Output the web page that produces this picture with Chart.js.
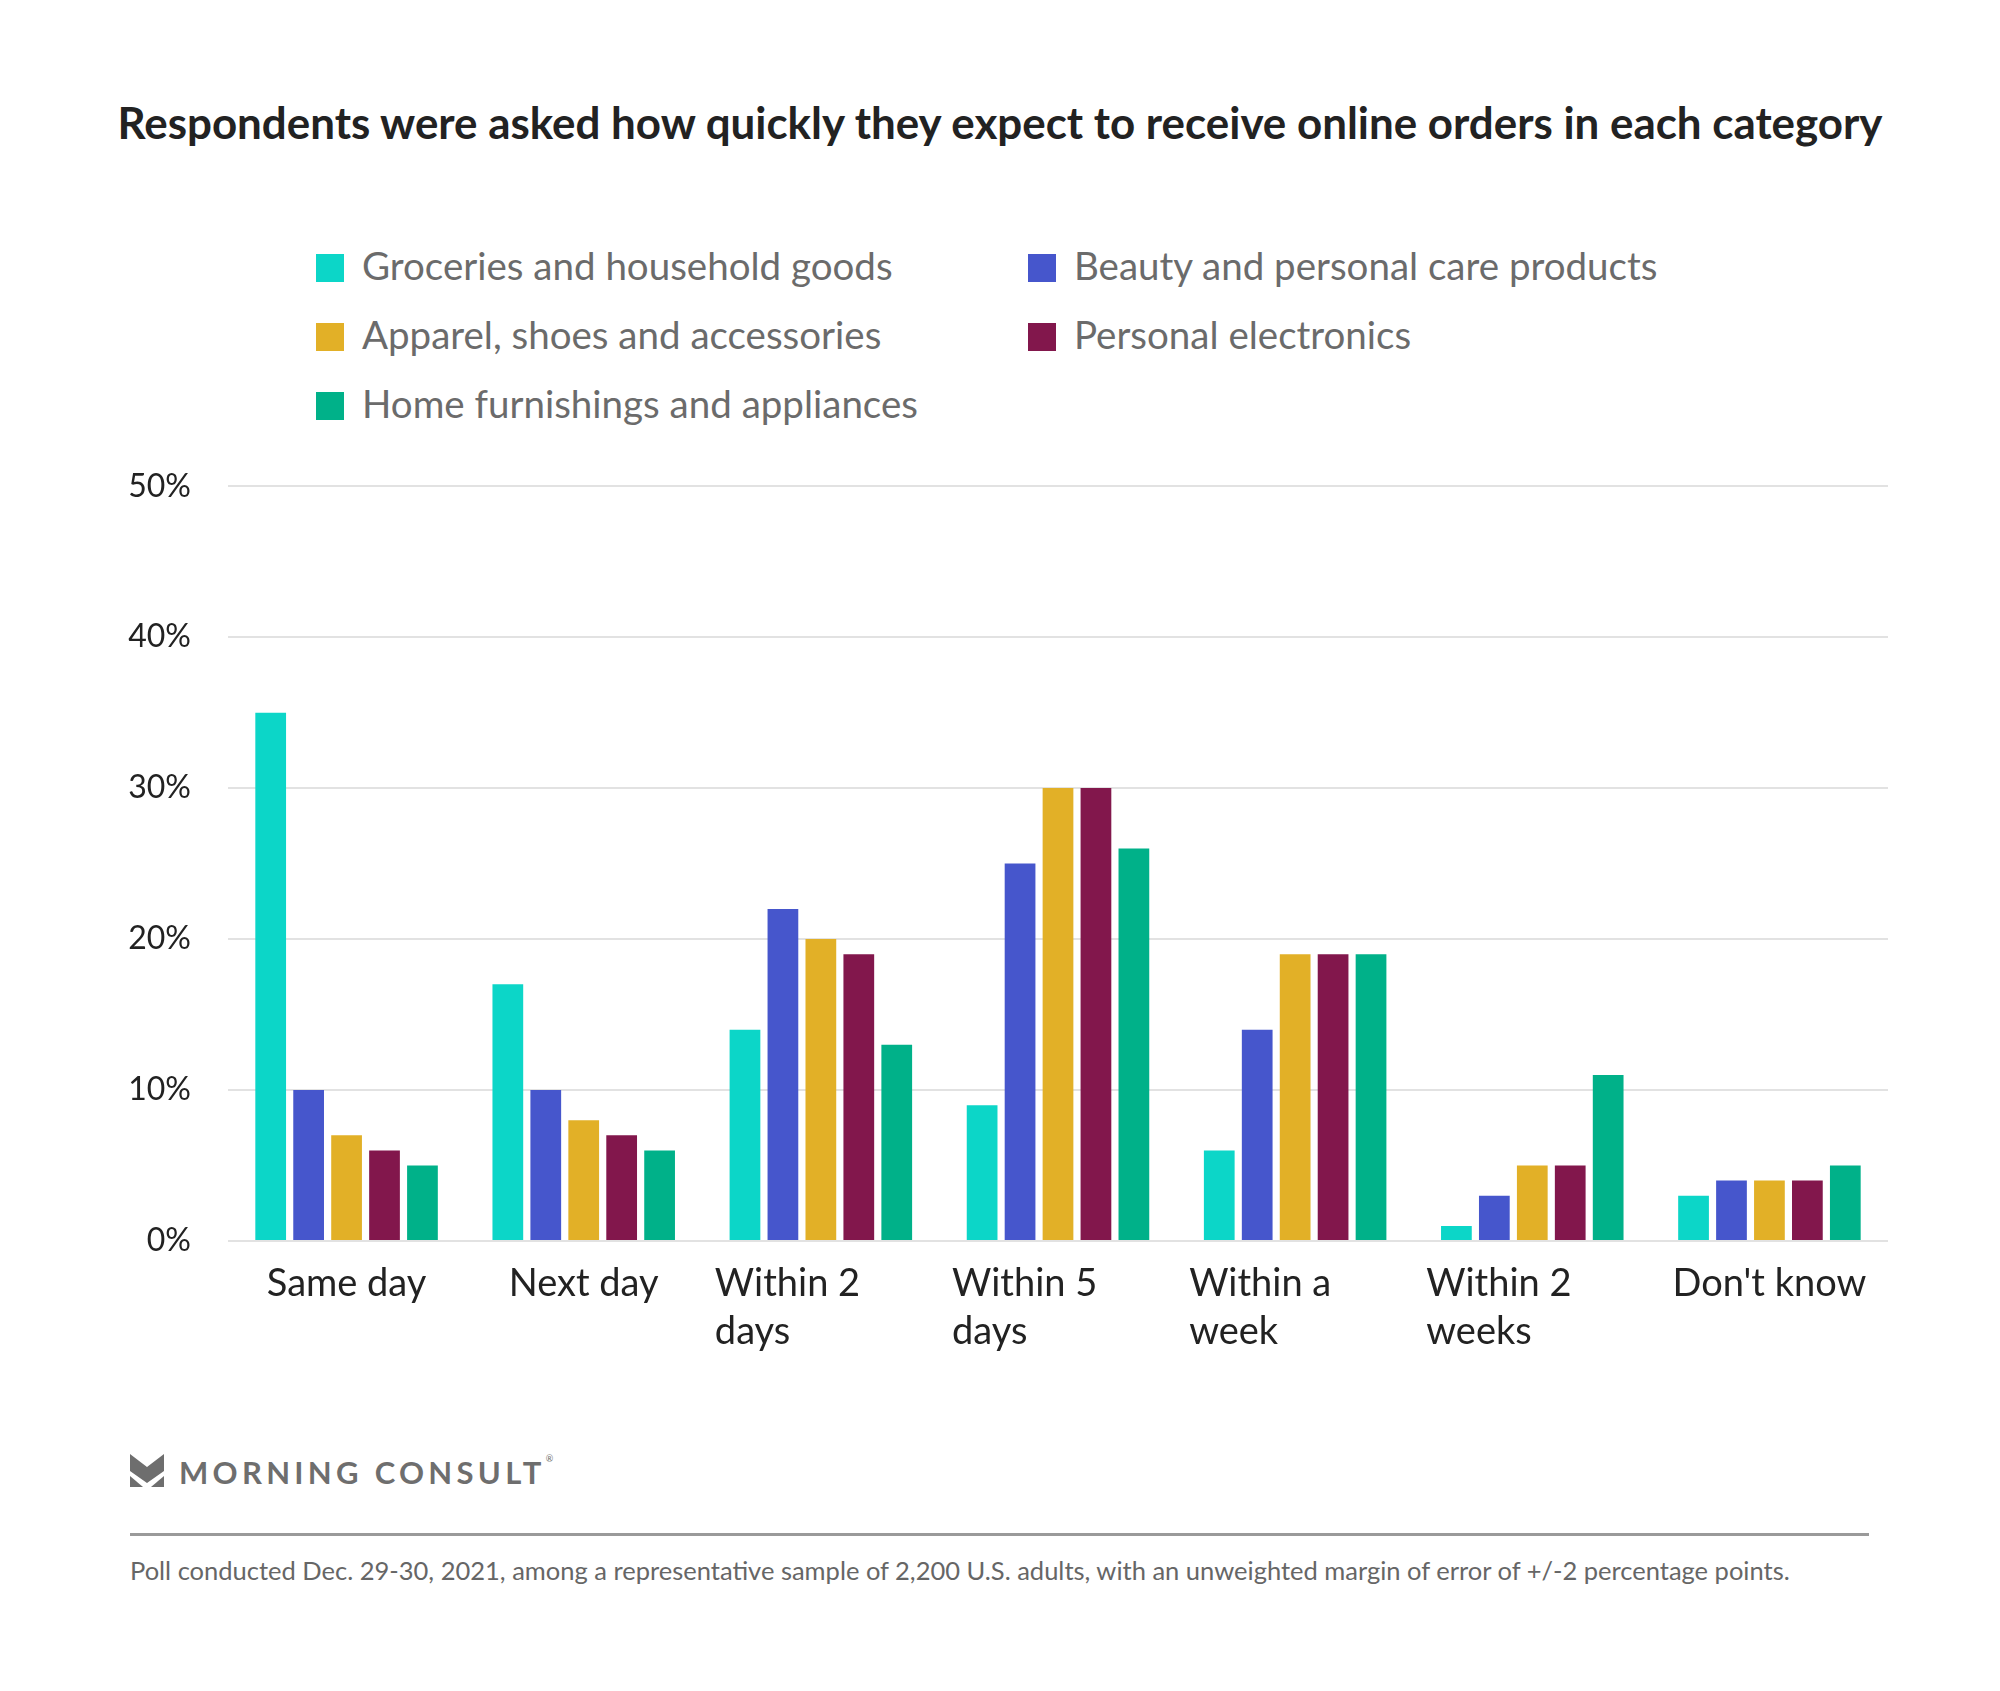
<!DOCTYPE html>
<html>
<head>
<meta charset="utf-8">
<script src="https://cdn.jsdelivr.net/npm/chart.js@4.4.1/dist/chart.umd.min.js"></script>
<style>
  body { margin: 0; background: #fff; font-family: Lato, "Open Sans", sans-serif; }
  #page { position: relative; width: 2000px; height: 1691px; overflow: hidden; }
  #title { position: absolute; left: 0; width: 2000px; top: 96px; text-align: center;
           font-weight: 700; font-size: 43.9px; color: #222; white-space: nowrap; }
  #legend { position: absolute; left: 316px; top: 242px; }
  .item { position: absolute; white-space: nowrap; font-size: 38.5px; color: #6b6b6b; line-height: 46px; }
  .item span.sw { display: inline-block; width: 28px; height: 28px; vertical-align: -2px; margin-right: 18px; }
  #logo { position: absolute; left: 130px; top: 1454px; }
  #logoText { position: absolute; left: 179px; top: 1439px; font-weight: 700; font-size: 31px;
              letter-spacing: 4.3px; color: #6e6e6e; line-height: 40px; white-space: nowrap; }
  #logoText sup { font-size: 9px; font-weight: 400; vertical-align: 22px; letter-spacing: 0; }
  #rule { position: absolute; left: 130px; width: 1739px; top: 1533px; height: 3px; background: #9a9a9a; }
  #note { position: absolute; left: 130px; top: 1555px; font-size: 25.5px; color: #666; white-space: nowrap; }
</style>
</head>
<body>
<div id="page">
  <div id="title">Respondents were asked how quickly they expect to receive online orders in each category</div>
  <div id="legend"></div>
  <canvas id="myChart" width="2000" height="960"></canvas>
  <svg id="logo" width="34" height="34" viewBox="0 0 34 34">
    <polygon points="0,0 17,13 34,0 34,17 17,29 0,17" fill="#6e6e6e"/>
    <polygon points="0,22 13,33 0,33" fill="#6e6e6e"/>
    <polygon points="34,22 21,33 34,33" fill="#6e6e6e"/>
  </svg>
  <div id="logoText">MORNING CONSULT<sup>®</sup></div>
  <div id="rule"></div>
  <div id="note">Poll conducted Dec. 29-30, 2021, among a representative sample of 2,200 U.S. adults, with an unweighted margin of error of +/-2 percentage points.</div>
</div>

<script>
// categories (multi-line ones as arrays)
const categories = ['Same day', 'Next day', ['Within 2', 'days'], ['Within 5', 'days'],
                    ['Within a', 'week'], ['Within 2', 'weeks'], "Don't know"]

const seriesNames = ['Groceries and household goods', 'Beauty and personal care products',
                     'Apparel, shoes and accessories', 'Personal electronics',
                     'Home furnishings and appliances']
const seriesColors = ['#0cd6c8', '#4656cc', '#e2b027', '#82174c', '#00b189']

const groceries   = [35, 17, 14, 9, 6, 1, 3]
const beauty      = [10, 10, 22, 25, 14, 3, 4]
const apparel     = [7, 8, 20, 30, 19, 5, 4]
const electronics = [6, 7, 19, 30, 19, 5, 4]
const home        = [5, 6, 13, 26, 19, 11, 5]

const yTicks = [0, 10, 20, 30, 40, 50]

const seriesValues = [groceries, beauty, apparel, electronics, home]

// legend, two columns
const legendBox = document.getElementById('legend')
seriesNames.forEach((name, i) => {
    const el = document.createElement('div')
    el.className = 'item'
    el.style.left = (i % 2 === 0 ? 0 : 712) + 'px'
    el.style.top = (Math.floor(i / 2) * 69) + 'px'
    el.innerHTML = '<span class="sw" style="background:' + seriesColors[i] + '"></span>' + name
    legendBox.appendChild(el)
})

// x labels: single lines centered, wrapped ones left aligned
const xLabelPlugin = {
    id: 'xLabels',
    afterDraw(chart) {
        const ctx = chart.ctx
        const xScale = chart.scales.x
        const base = chart.chartArea.bottom
        ctx.save()
        ctx.font = '38px Lato'
        ctx.fillStyle = '#222'
        ctx.textBaseline = 'middle'
        categories.forEach((c, i) => {
            const px = xScale.getPixelForValue(i)
            if (Array.isArray(c)) {
                ctx.textAlign = 'left'
                c.forEach((line, j) => ctx.fillText(line, px - 106, base + 43 + j * 48))
            } else {
                ctx.textAlign = 'center'
                ctx.fillText(c, px, base + 43)
            }
        })
        ctx.restore()
    }
}

const canvas = document.getElementById('myChart')
canvas.style.position = 'absolute'
canvas.style.left = '0px'
canvas.style.top = '430px'

new Chart(canvas, {
    type: 'bar',
    data: {
        labels: categories,
        datasets: seriesNames.map((name, i) => ({
            label: name,
            data: seriesValues[i],
            backgroundColor: seriesColors[i],
            borderWidth: 0,
            categoryPercentage: 0.8,
            barPercentage: 0.81
        }))
    },
    options: {
        responsive: false,
        animation: false,
        layout: { padding: { top: 56, right: 112, bottom: 141, left: 0 } },
        plugins: { legend: { display: false }, tooltip: { enabled: false } },
        scales: {
            x: {
                grid: { display: false },
                border: { display: false },
                ticks: { display: false }
            },
            y: {
                min: 0,
                max: 50,
                afterBuildTicks(scale) { scale.ticks = yTicks.map(v => ({ value: v })) },
                afterFit(scale) { scale.width = 228 },
                grid: { color: '#e2e2e2', lineWidth: 2, drawTicks: false },
                border: { display: false },
                ticks: {
                    padding: 37,
                    color: '#222',
                    font: { family: 'Lato', size: 32 },
                    callback: v => v + '%'
                }
            }
        }
    },
    plugins: [xLabelPlugin]
})
</script>
</body>
</html>
